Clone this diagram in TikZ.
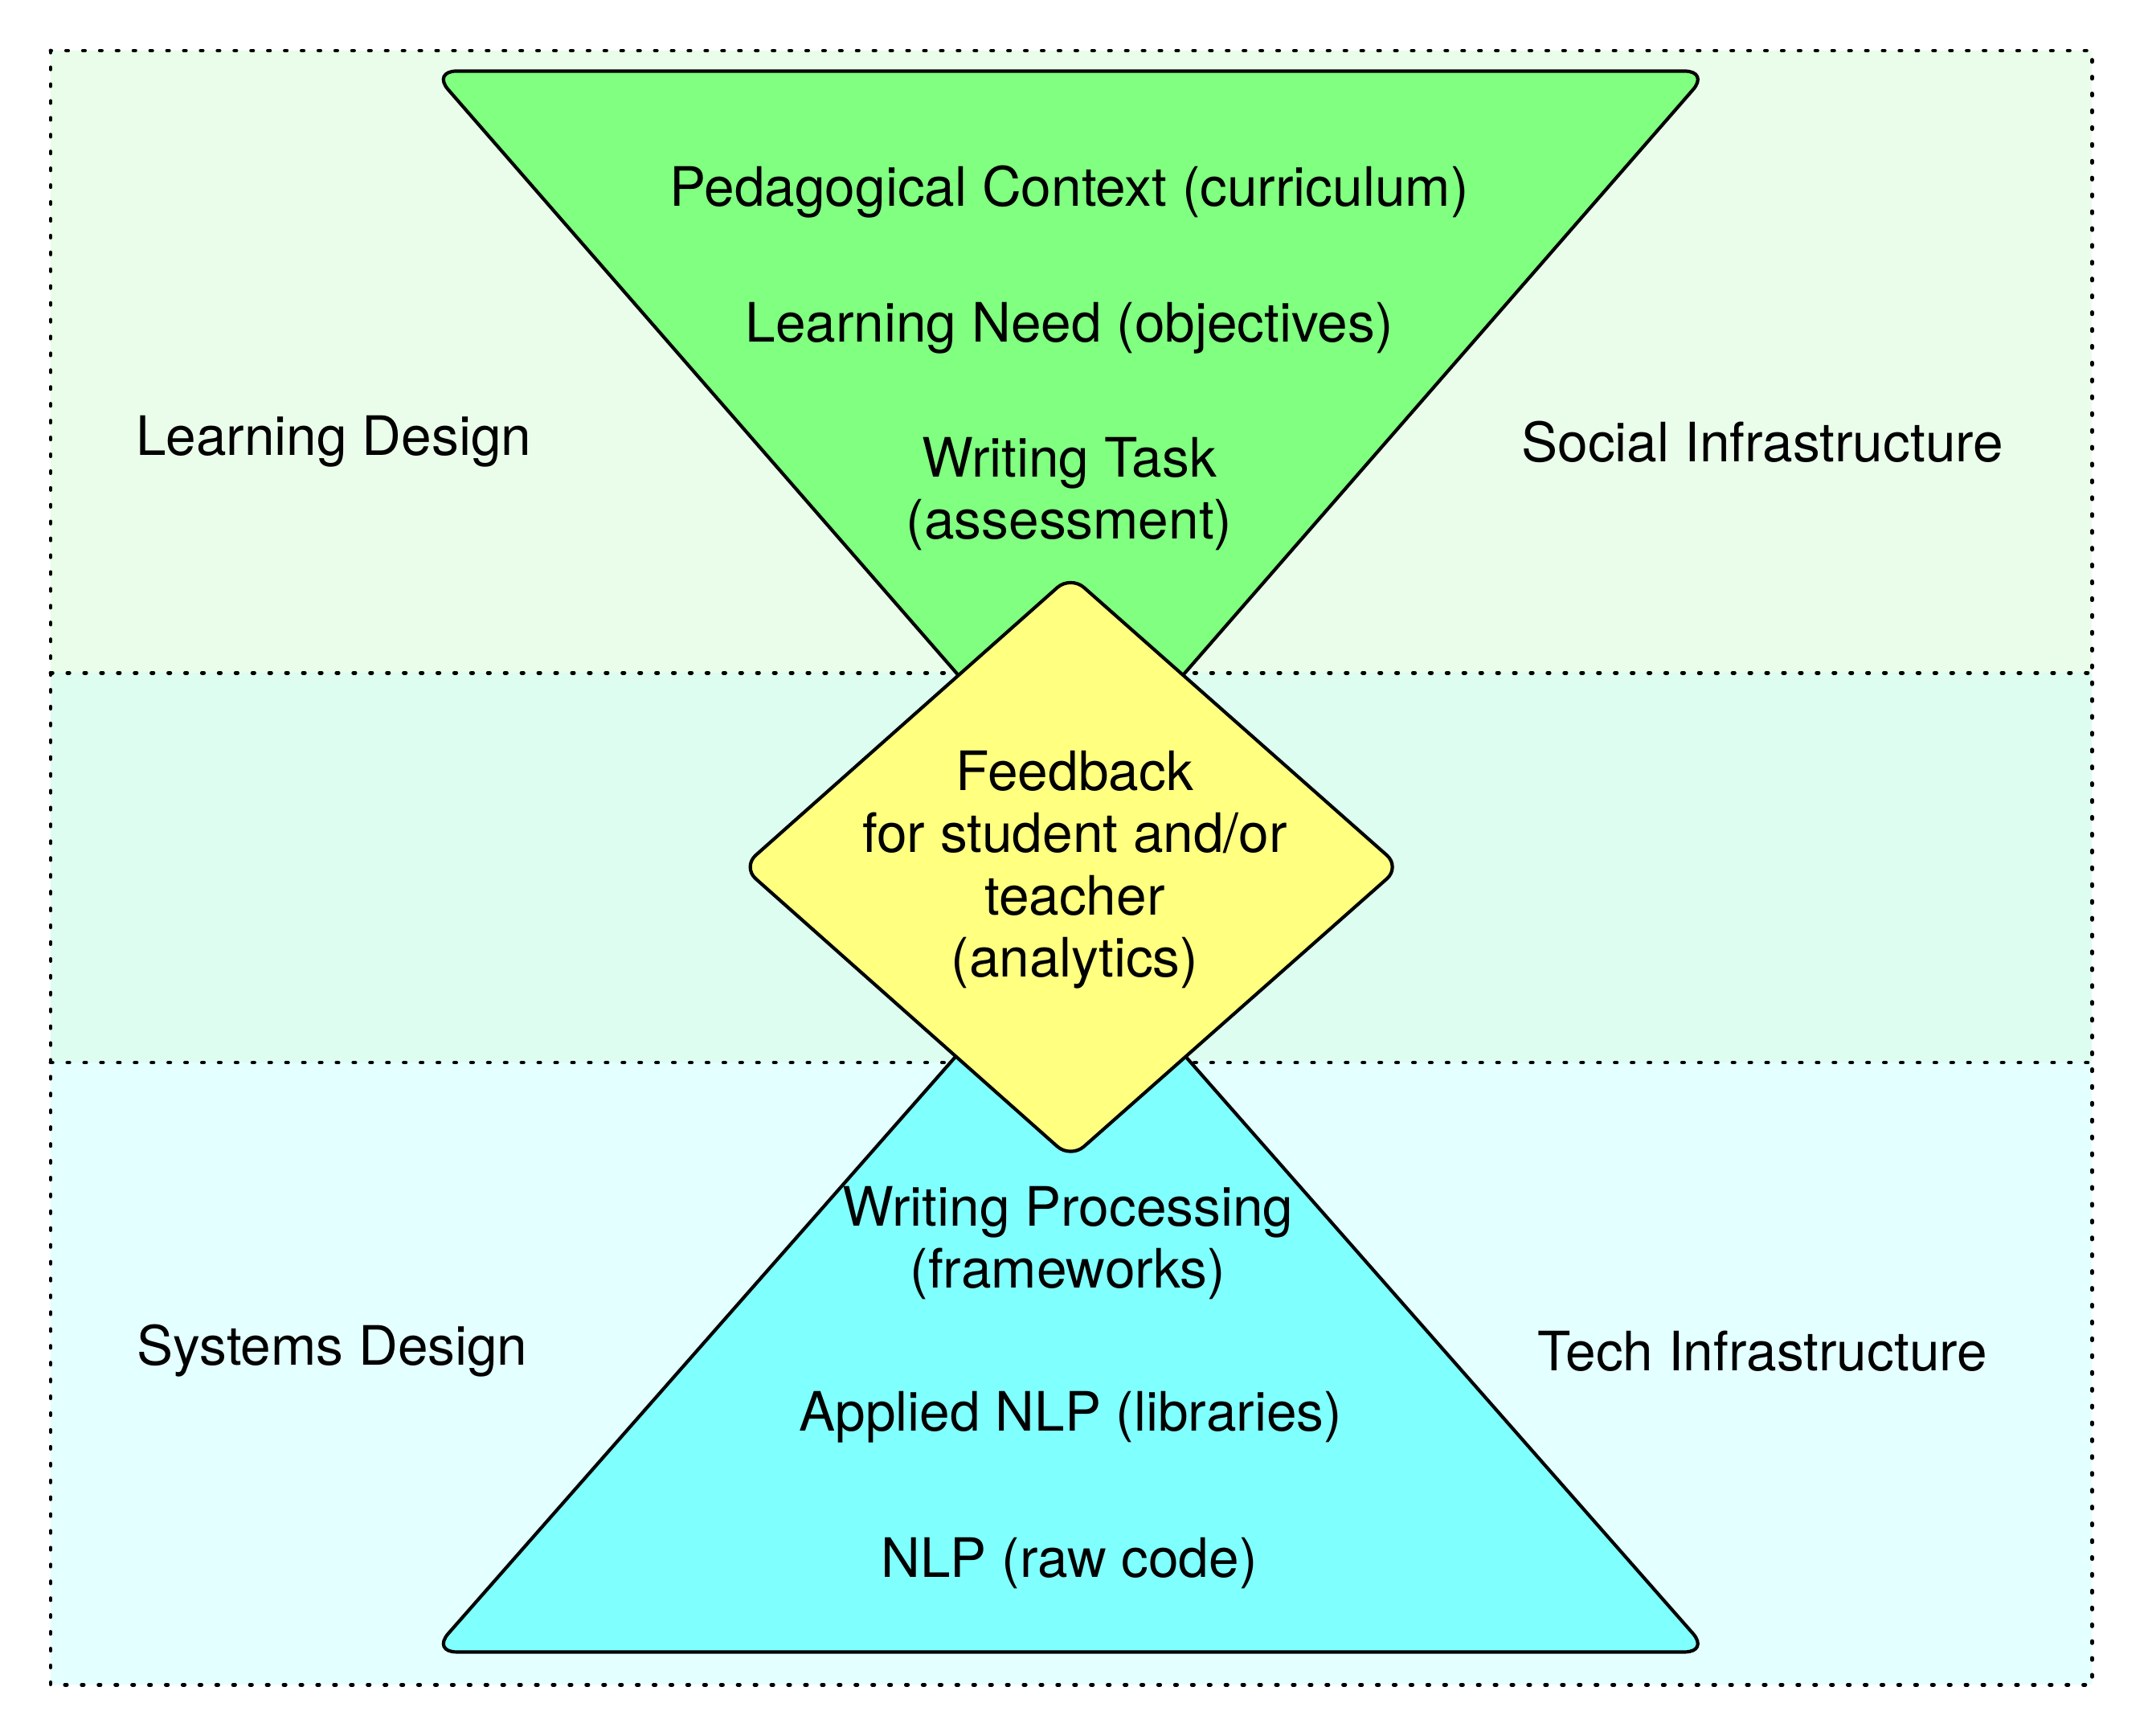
\documentclass[tikz,border=0pt]{standalone}
\usepackage{fontspec}
\setmainfont{TeX Gyre Heros}
\usepackage{xcolor}
\usetikzlibrary{positioning}

\definecolor{bandtop}{HTML}{EAFCEA}
\definecolor{bandmid}{HTML}{DCFDF0}
\definecolor{bandbot}{HTML}{E3FFFF}
\definecolor{pedgreen}{HTML}{80FF80}
\definecolor{fbyellow}{HTML}{FFFF80}
\definecolor{techcyan}{HTML}{80FFFF}

\begin{document}
\begin{tikzpicture}[x=0.1mm, y=-0.1mm,
    sep/.style={line width=0.8pt, dash pattern=on 0.4pt off 3.1pt, line cap=round},
    layer/.style={draw, line width=0.7pt, rounded corners=1.8mm},
    txt/.style={font=\fontsize{11.3}{12.9}\selectfont, align=center, inner sep=0pt},
]
    \useasboundingbox (0,0) rectangle (1568,1269);

    % Bands
    \fill[bandtop] (37,37) rectangle (1530,492);
    \fill[bandmid] (37,492) rectangle (1530,777);
    \fill[bandbot] (37,777) rectangle (1530,1232);
    \draw[sep] (37,37) rectangle (1530,1232);
    \draw[sep] (37,492) -- (1530,492);
    \draw[sep] (37,777) -- (1530,777);

    % Triangles
    \draw[layer, fill=pedgreen] (316,52) -- (1250,52) -- (783,588) -- cycle;
    \draw[layer, fill=techcyan] (316,1208) -- (1250,1208) -- (783,677) -- cycle;

    % Feedback diamond
    \draw[layer, fill=fbyellow, rounded corners=1.3mm]
        (783,421) -- (1024,634) -- (783,847) -- (543,634) -- cycle;

    % Pedagogy side
    \node[txt] (context) at (782,140) {Pedagogical Context (curriculum)};
    \node[txt] (need) at (782,240) {Learning Need (objectives)};
    \node[txt] (task) at (782,361) {Writing Task\\(assessment)};

    % Feedback
    \node[txt] (feedback) at (786,636) {Feedback\\for student and/or\\teacher\\(analytics)};

    % Technology side
    \node[txt] (processing) at (781,909) {Writing Processing\\(frameworks)};
    \node[txt] (applied) at (783,1036) {Applied NLP (libraries)};
    \node[txt] (rawnlp) at (782,1143) {NLP (raw code)};

    % Band labels
    \node[txt] (learndesign) at (244,323) {Learning Design};
    \node[txt] (socinfra) at (1289,323) {Social Infrastructure};
    \node[txt] (sysdesign) at (243,988) {Systems Design};
    \node[txt] (techinfra) at (1289,988) {Tech Infrastructure};
\end{tikzpicture}
\end{document}
